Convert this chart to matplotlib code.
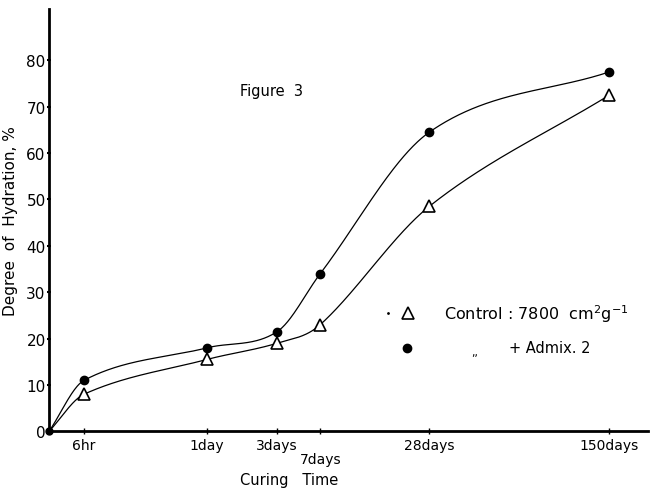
import numpy as np
import matplotlib
matplotlib.use("Agg")
import matplotlib.pyplot as plt

# curing times (x placed on the hand-drawn, non-uniform time axis of the original)
time_labels = ["6hr", "1day", "3days", "7days", "28days", "150days"]
time_pos = [0, 35, 158, 228, 271, 380, 560]   # first entry = origin
control = [0, 8, 15.5, 19, 23, 48.5, 72.5]
admix2 = [0, 11, 18, 21.5, 34, 64.5, 77.5]
yticks = [0, 10, 20, 30, 40, 50, 60, 70, 80]


def smooth(x, y, xs):
    # cubic hermite with finite-difference tangents, only to draw the curve
    x = np.asarray(x, float)
    y = np.asarray(y, float)
    h = np.diff(x)
    d = np.diff(y) / h
    m = np.zeros_like(y)
    m[0] = d[0]
    m[-1] = d[-1]
    for k in range(1, len(x) - 1):
        if d[k - 1] * d[k] > 0:
            m[k] = (y[k + 1] - y[k - 1]) / (x[k + 1] - x[k - 1])
            m[k] = min(m[k], 3 * d[k - 1], 3 * d[k])
    idx = np.clip(np.searchsorted(x, xs) - 1, 0, len(x) - 2)
    t = (xs - x[idx]) / h[idx]
    h00 = 2 * t**3 - 3 * t**2 + 1
    h10 = t**3 - 2 * t**2 + t
    h01 = -2 * t**3 + 3 * t**2
    h11 = t**3 - t**2
    return (h00 * y[idx] + h10 * h[idx] * m[idx]
            + h01 * y[idx + 1] + h11 * h[idx] * m[idx + 1])


plt.rcParams['font.family'] = ['DejaVu Sans']
fig = plt.figure(figsize=(6.55, 4.89), dpi=100)
ax = fig.add_axes([0.075, 0.116, 0.915, 0.863])

xs = np.linspace(time_pos[0], time_pos[-1], 600)
ax.plot(xs, smooth(time_pos, control, xs), color='black', lw=0.9)
ax.plot(xs, smooth(time_pos, admix2, xs), color='black', lw=0.9)
ax.plot(time_pos[1:], control[1:], linestyle='none', marker='^', ms=8,
        mfc='white', mec='black', mew=1.2, clip_on=False)
ax.plot(time_pos[1:], admix2[1:], linestyle='none', marker='o', ms=6,
        color='black', clip_on=False)
ax.plot([0], [0], marker='o', ms=5, color='black', clip_on=False)

ax.set_xlim(0, 599)
ax.set_ylim(0, 91)
for s in ['top', 'right']:
    ax.spines[s].set_visible(False)
ax.spines['left'].set_linewidth(2)
ax.spines['bottom'].set_linewidth(2)

ax.set_yticks(yticks)
ax.set_yticklabels([str(v) for v in yticks], fontsize=11)
ax.tick_params(axis='y', length=3, width=1.5, direction='inout', pad=1)

ax.set_xticks(time_pos[1:])
ax.set_xticklabels(time_labels, fontsize=10)
ax.tick_params(axis='x', length=4, width=1, direction='inout', pad=3)
ax.get_xticklabels()[3].set_y(-0.032)

ax.set_xlabel("Curing   Time", fontsize=10.5)
ax.xaxis.set_label_coords(0.40, -0.096)
ax.set_ylabel("Degree  of  Hydration, %", fontsize=11, labelpad=6)

ax.text(191, 72.5, "Figure  3", fontsize=10.5)

# legend drawn as in the original figure
ax.plot([339], [25.5], marker='.', ms=2, color='black')
ax.plot([359], [25.5], marker='^', ms=8, mfc='white', mec='black', mew=1.2,
        clip_on=False)
ax.text(395, 25.5, r"Control : 7800  cm$^2$g$^{-1}$", fontsize=11.5, va='center')
ax.plot([358], [18], marker='o', ms=6, color='black')
ax.text(422, 17.2, ",,", fontsize=8, va='center')
ax.text(460, 18, "+ Admix. 2", fontsize=10.5, va='center')

fig.savefig("out.png", dpi=100)
